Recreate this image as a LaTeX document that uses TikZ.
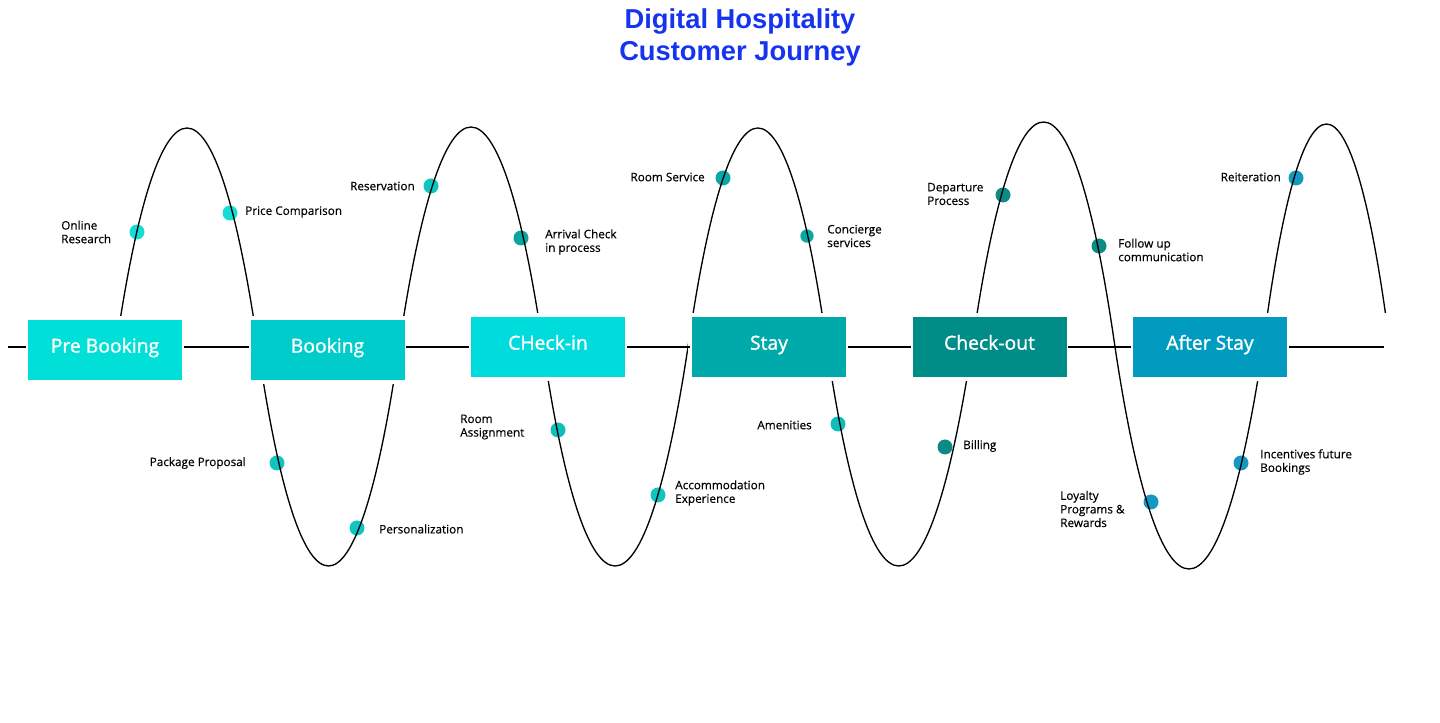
\documentclass[tikz,border=0pt]{standalone}
\usepackage{fontspec}
\newfontfamily\labfont{Open Sans}[FakeBold=0.4]
\newfontfamily\boxfont{Open Sans}[FakeBold=1.2]
\newfontfamily\titlefont{Liberation Sans}
\definecolor{titleblue}{RGB}{22,52,240}
\definecolor{cPre}{RGB}{0,224,216}
\definecolor{cBook}{RGB}{0,204,204}
\definecolor{cCheckin}{RGB}{0,220,220}
\definecolor{cStay}{RGB}{0,170,170}
\definecolor{cCheckout}{RGB}{0,140,135}
\definecolor{cAfter}{RGB}{0,155,190}
\definecolor{dA}{RGB}{21,220,213}
\definecolor{dB}{RGB}{16,197,192}
\definecolor{dC}{RGB}{10,165,159}
\definecolor{dD}{RGB}{16,189,186}
\definecolor{dE}{RGB}{10,168,165}
\definecolor{dF}{RGB}{14,138,132}
\definecolor{dG}{RGB}{21,152,192}
\begin{document}
\begin{tikzpicture}[x=0.75pt,y=-0.75pt,
  lab/.style={font=\labfont\fontsize{8.8}{10.2}\selectfont, inner sep=0pt, align=left, text=black},
  phase/.style={draw=white, line width=3pt, minimum width=118.5pt, minimum height=48pt, inner sep=0pt, text=white, text height=10pt, text depth=6pt, font=\boxfont\fontsize{14.5}{17}\selectfont},
  dot/.style={circle, inner sep=0pt, minimum size=11.25pt},
  wave/.style={line width=1pt, black},
  axis/.style={line width=1pt, black, shorten <=-1.6pt, shorten >=-1.6pt},
  ttl/.style={font=\titlefont\bfseries\fontsize{20.5}{24}\selectfont, text=titleblue, align=center, inner sep=0pt}]
\useasboundingbox (0,0) rectangle (1440,723);

% title
\node[ttl] (title) at (740,37) {Digital Hospitality\\Customer Journey};

% dots
\node[dot, fill=dA] (d1) at (137,232) {};
\node[dot, fill=dA] (d2) at (230,213) {};
\node[dot, fill=dB] (d3) at (431,186) {};
\node[dot, fill=dB] (d4) at (277,463) {};
\node[dot, fill=dB] (d5) at (357,528) {};
\node[dot, fill=dC] (d6) at (521,238) {};
\node[dot, fill=dD] (d7) at (558,430) {};
\node[dot, fill=dE] (d8) at (723,178) {};
\node[dot, fill=dE, minimum size=10pt] (d9) at (807,236) {};
\node[dot, fill=dB] (d10) at (658,495) {};
\node[dot, fill=dD] (d11) at (838,424) {};
\node[dot, fill=dF] (d12) at (945,447) {};
\node[dot, fill=dF] (d13) at (1003,195) {};
\node[dot, fill=dF] (d14) at (1099,246) {};
\node[dot, fill=dG] (d15) at (1151,502) {};
\node[dot, fill=dG] (d16) at (1241,463) {};
\node[dot, fill=dG] (d17) at (1296,178) {};

% wave
\begin{scope}
\clip (0,0) -- (1440,0) -- (1440,313) -- (1375,313) -- (1375,723) -- (0,723) -- cycle;
\draw[wave] (116,347) .. controls (158.6,55) and (215.4,55) .. (258,347)
  .. controls (300.3,639) and (356.7,639) .. (399,347)
  .. controls (442.2,53.7) and (499.8,53.7) .. (543,347)
  .. controls (586.2,639) and (643.8,639) .. (688,347)
  .. controls (730,55) and (786,55) .. (827,347)
  .. controls (869.9,639) and (927.1,639) .. (972,347)
  .. controls (1015,47) and (1072,47) .. (1115,347)
  .. controls (1159.4,643) and (1218.6,643) .. (1263,347)
  .. controls (1301.1,49.7) and (1351.9,49.7) .. (1390,347);
\end{scope}

% phases
\node[phase, fill=cPre] (pre) at (105,350) {Pre Booking};
\node[phase, fill=cBook] (book) at (327.5,350) {Booking};
\node[phase, fill=cCheckin] (cin) at (548,347) {CHeck-in};
\node[phase, fill=cStay] (stay) at (769,347) {Stay};
\node[phase, fill=cCheckout] (cout) at (989.5,347) {Check-out};
\node[phase, fill=cAfter] (after) at (1210,347) {After Stay};

% axis
\coordinate (lstart) at (8,347);
\coordinate (lend) at (1384,347);
\draw[axis, shorten <=0pt] (lstart) -- (pre.west |- lstart);
\draw[axis] (pre.east |- lstart) -- (book.west |- lstart);
\draw[axis] (book.east |- lstart) -- (cin.west |- lstart);
\draw[axis] (cin.east |- lstart) -- (stay.west |- lstart);
\draw[axis] (stay.east |- lstart) -- (cout.west |- lstart);
\draw[axis] (cout.east |- lstart) -- (after.west |- lstart);
\draw[axis, shorten >=0pt] (after.east |- lstart) -- (lend);

% labels
\node[lab, anchor=west] (l1) at (61,232) {Online\\Research};
\node[lab, anchor=west] (l2) at (245,212) {Price Comparison};
\node[lab, anchor=east] (l3) at (415,186) {Reservation};
\node[lab, anchor=east] (l4) at (246,463) {Package Proposal};
\node[lab, anchor=west] (l5) at (379,529) {Personalization};
\node[lab, anchor=west] (l6) at (545,242) {Arrival Check\\in process};
\node[lab, anchor=west] (l7) at (460,427) {Room\\Assignment};
\node[lab, anchor=east] (l8) at (705,177) {Room Service};
\node[lab, anchor=west] (l9) at (827,236) {Concierge\\services};
\node[lab, anchor=west] (l10) at (675,493) {Accommodation\\Experience};
\node[lab, anchor=east] (l11) at (812,425) {Amenities};
\node[lab, anchor=west] (l12) at (963,446) {Billing};
\node[lab, anchor=west] (l13) at (927,194) {Departure\\Process};
\node[lab, anchor=west] (l14) at (1118,250) {Follow up\\communication};
\node[lab, anchor=west] (l15) at (1060,509) {Loyalty\\Programs \&\\Rewards};
\node[lab, anchor=west] (l16) at (1260,462) {Incentives future\\Bookings};
\node[lab, anchor=east] (l17) at (1281,177) {Reiteration};
\end{tikzpicture}
\end{document}
